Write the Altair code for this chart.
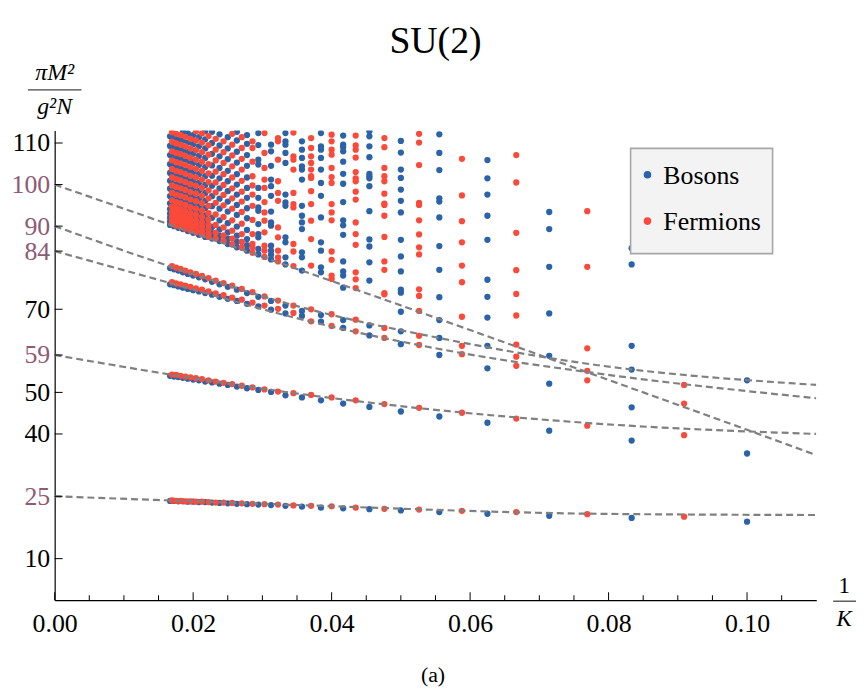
import altair as alt
import pandas as pd

FONT = "'Liberation Serif', 'DejaVu Serif', serif"
BLUE = "#2a63a8"
RED = "#fc4a3a"
MAUVE = "#8e5a74"
GRAY = "#808080"

K_VALUES = list(range(10, 61))

# lowest state (extrapolates to 25)
BAND1 = [18.9, 20.1, 19.8, 20.7, 20.3, 21.2, 20.8, 21.5, 21.2, 21.8, 21.6,
         22.0, 21.9, 22.3, 22.1, 22.6, 22.3, 22.7, 22.5, 22.8, 22.7,
         23.0, 22.9, 23.1, 23.0, 23.2, 23.1, 23.3, 23.2, 23.4, 23.3,
         23.5, 23.4, 23.5, 23.5, 23.6, 23.6, 23.7, 23.6, 23.7, 23.7,
         23.8, 23.7, 23.8, 23.8, 23.9, 23.8, 23.9, 23.9, 24.0, 23.9]

# second state (extrapolates to 59)
BAND2 = [35.3, 39.7, 38.4, 42.0, 40.8, 43.7, 42.7, 45.1, 44.2, 46.3, 45.4,
         47.2, 46.5, 48.1, 47.3, 48.8, 48.1, 49.4, 48.8, 49.8, 49.3,
         50.2, 50.1, 50.7, 50.6, 51.2, 51.0, 51.6, 51.4, 52.0, 51.8,
         52.3, 52.1, 52.6, 52.4, 52.9, 52.6, 53.2, 52.9, 53.4, 53.1,
         53.6, 53.3, 53.8, 53.5, 54.0, 53.7, 54.2, 53.8, 54.3, 54.0]

# all higher states, one list per K (K = 10 ... 60)
UPPER = [
    [52.9],
    [51.8, 47.3],
    [84.7, 80.8, 61.2, 55.5, 46.4],
    [93.6, 80.2, 60.6, 55.2, 52.9],
    [93.4, 89.3, 80.2, 69.0, 58.8, 52.1],
    [107.1, 100.5, 88.4, 79.4, 73.7, 68.5, 61.5, 58.6, 56.4],
    [105.9, 101.5, 97.6, 92.5, 86.7, 77.1, 73.0, 68.0, 61.2, 55.8],
    [106.2, 97.4, 91.2, 86.1, 80.5, 76.5, 68.2, 61.2, 59.2],
    [112.1, 107.6, 103.5, 96.7, 95.9, 92.1, 85.2, 79.5, 72.9, 67.4, 63.1, 59.0],
    [112.2, 110.1, 104.7, 95.6, 95.1, 91.4, 88.0, 84.9, 83.2, 74.8, 73.2, 69.6, 63.6, 61.4],
    [110.5, 107.7, 103.6, 101.6, 98.8, 96.1, 93.3, 86.7, 82.7, 79.1, 74.7, 74.0, 69.4, 64.7, 61.6],
    [111.2, 109.0, 104.0, 102.0, 100.8, 97.8, 95.4, 95.1, 92.5, 87.4, 81.5, 79.5, 73.9, 73.6, 65.5, 63.1],
    [112.8, 111.6, 109.2, 106.6, 102.6, 102.0, 101.5, 99.6, 93.6, 86.8, 85.1, 81.3, 76.9, 66.1, 63.7],
    [111.8, 109.4, 108.4, 106.5, 103.0, 101.5, 100.8, 98.3, 96.4, 90.9, 88.1, 85.5, 78.9, 77.2, 75.1, 67.5, 64.7],
    [111.8, 109.6, 109.0, 108.0, 105.5, 102.6, 100.2, 95.8, 91.4, 90.2, 87.9, 81.5, 79.1, 78.1, 75.2, 67.4, 65.5],
    [112.0, 110.4, 108.4, 107.2, 104.0, 101.8, 100.4, 95.3, 93.3, 91.4, 83.9, 81.9, 78.1, 77.3, 68.8, 66.0],
    [112.4, 109.2, 108.4, 106.4, 103.6, 100.4, 97.3, 92.1, 86.1, 84.1, 80.1, 78.9, 68.6, 67.0],
    [111.2, 108.8, 106.8, 105.2, 103.6, 102.0, 101.6, 98.4, 95.3, 91.3, 86.9, 80.5, 70.0, 67.1],
    [110.4, 108.4, 106.4, 104.4, 103.6, 101.2, 94.9, 92.5, 90.9, 89.3, 83.7, 82.5, 79.3, 69.6, 68.4],
    [112.5, 106.8, 106.0, 103.6, 98.0, 95.3, 94.5, 85.7, 83.9, 80.4, 70.9, 69.1],
    [112.4, 110.4, 109.6, 107.6, 105.2, 97.6, 95.7, 94.9, 87.3, 86.1, 82.5, 80.8, 70.9, 69.0],
    [111.2, 110.4, 106.0, 100.8, 98.0, 96.1, 89.7, 87.3, 84.1, 82.5, 81.5, 72.1, 70.1],
    [109.6, 108.0, 104.5, 101.2, 99.6, 97.3, 93.5, 90.9, 90.1, 85.3, 84.1, 83.1, 82.0, 72.0, 69.9],
    [112.4, 107.6, 104.0, 101.2, 99.2, 95.8, 93.3, 91.3, 88.5, 85.3, 84.1, 82.6, 73.1, 70.9],
    [112.4, 109.5, 106.0, 104.8, 99.2, 96.8, 94.5, 93.7, 90.5, 88.1, 87.3, 84.5, 83.2, 73.0, 70.7],
    [110.4, 108.8, 105.5, 102.0, 99.8, 97.6, 94.9, 91.5, 88.1, 85.7, 84.9, 83.6, 74.1, 71.6],
    [84.1, 85.4, 86.9, 89.1, 91.9, 94.3, 96.8, 99.2, 101.7, 104.5, 107.1, 109.8, 111.9, 73.9, 71.3],
    [84.8, 86.2, 88.1, 90.6, 93.4, 95.9, 98.3, 100.9, 103.6, 106.2, 108.8, 111.4, 74.9, 72.3],
    [84.9, 86.2, 87.7, 89.9, 92.7, 95.1, 97.6, 100.0, 102.5, 105.3, 107.9, 110.6, 112.7, 74.7, 72.0],
    [85.6, 87.0, 88.9, 91.4, 94.2, 96.7, 99.1, 101.7, 104.4, 107.0, 109.6, 112.2, 75.7, 72.8],
    [85.7, 87.0, 88.5, 90.7, 93.5, 95.9, 98.4, 100.8, 103.3, 106.1, 108.7, 111.4, 75.4, 72.5],
    [86.4, 87.8, 89.7, 92.2, 95.0, 97.5, 99.9, 102.5, 105.2, 107.8, 110.4, 76.3, 73.4],
    [86.4, 87.7, 89.2, 91.4, 94.2, 96.6, 99.1, 101.5, 104.0, 106.8, 109.4, 112.1, 76.0, 73.0],
    [87.0, 88.4, 90.3, 92.8, 95.6, 98.1, 100.5, 103.1, 105.8, 108.4, 111.0, 76.9, 73.8],
    [87.0, 88.3, 89.8, 92.0, 94.8, 97.2, 99.7, 102.1, 104.6, 107.4, 110.0, 112.7, 76.6, 73.5],
    [87.4, 88.2, 89.2, 90.3, 91.6, 93.1, 94.9, 96.7, 98.6, 100.6, 102.7, 104.9, 107.2, 109.5, 111.7, 77.5, 74.3],
    [87.4, 88.2, 89.1, 90.1, 91.2, 92.6, 94.3, 96.1, 98.0, 99.9, 102.0, 104.2, 106.4, 108.7, 110.9, 112.9, 77.2, 73.9],
    [88.0, 88.8, 89.8, 90.9, 92.2, 93.7, 95.5, 97.3, 99.2, 101.2, 103.3, 105.5, 107.8, 110.1, 112.3, 78.0, 74.7],
    [87.9, 88.7, 89.6, 90.6, 91.7, 93.1, 94.8, 96.6, 98.5, 100.4, 102.5, 104.7, 106.9, 109.2, 111.4, 77.7, 74.3],
    [88.5, 89.3, 90.3, 91.4, 92.7, 94.2, 96.0, 97.8, 99.7, 101.7, 103.8, 106.0, 108.3, 110.6, 112.8, 78.5, 75.0],
    [88.4, 89.2, 90.1, 91.1, 92.2, 93.6, 95.3, 97.1, 99.0, 100.9, 103.0, 105.2, 107.4, 109.7, 111.9, 78.1, 74.6],
    [88.9, 89.7, 90.7, 91.8, 93.1, 94.6, 96.4, 98.2, 100.1, 102.1, 104.2, 106.4, 108.7, 111.0, 78.9, 75.4],
    [88.8, 89.6, 90.5, 91.5, 92.6, 94.0, 95.7, 97.5, 99.4, 101.3, 103.4, 105.6, 107.8, 110.1, 112.3, 78.5, 74.9],
    [89.4, 90.2, 91.2, 92.3, 93.6, 95.1, 96.9, 98.7, 100.6, 102.6, 104.7, 106.9, 109.2, 111.5, 79.3, 75.7],
    [89.3, 90.1, 91.0, 92.0, 93.1, 94.5, 96.2, 98.0, 99.9, 101.8, 103.9, 106.1, 108.3, 110.6, 112.8, 78.9, 75.2],
    [89.8, 90.6, 91.6, 92.7, 94.0, 95.5, 97.3, 99.1, 101.0, 103.0, 105.1, 107.3, 109.6, 111.9, 79.7, 76.0],
    [89.6, 90.4, 91.3, 92.3, 93.4, 94.8, 96.5, 98.3, 100.2, 102.1, 104.2, 106.4, 108.6, 110.9, 79.3, 75.5],
    [90.1, 90.9, 91.9, 93.0, 94.3, 95.8, 97.6, 99.4, 101.3, 103.3, 105.4, 107.6, 109.9, 112.2, 80.0, 76.2],
    [90.0, 90.8, 91.7, 92.7, 93.8, 95.2, 96.9, 98.7, 100.6, 102.5, 104.6, 106.8, 109.0, 111.3, 79.6, 75.8],
    [90.5, 91.3, 92.3, 93.4, 94.7, 96.2, 98.0, 99.8, 101.7, 103.7, 105.8, 108.0, 110.3, 112.6, 80.4, 76.5],
    [90.3, 91.1, 92.0, 93.0, 94.1, 95.5, 97.2, 99.0, 100.9, 102.8, 104.9, 107.1, 109.3, 111.6, 79.9, 76.0],
]

# dashed extrapolation curves
FIT_100_X = [0.0, 0.02, 0.04, 0.06, 0.08, 0.10, 0.11]
FIT_100_Y = [100.0, 88.4, 76.8, 65.0, 53.0, 41.0, 34.9]
FIT_90_X = [0.0, 0.0167, 0.0356, 0.0552, 0.0782, 0.11]
FIT_90_Y = [90.0, 80.3, 70.5, 63.2, 56.6, 51.8]
FIT_84_X = [0.0, 0.0167, 0.0351, 0.059, 0.0782, 0.11]
FIT_84_Y = [84.0, 76.3, 67.8, 59.4, 54.6, 48.6]
FIT_59_X = [0.0, 0.0167, 0.0356, 0.0782, 0.11]
FIT_59_Y = [59.0, 54.3, 49.6, 42.5, 40.0]
FIT_25_X = [0.0, 0.0167, 0.0351, 0.0782, 0.11]
FIT_25_Y = [25.0, 24.0, 22.9, 20.8, 20.5]

Y_TICKS = [10, 25, 40, 50, 59, 70, 84, 90, 100, 110]
X_TICKS = [0.0, 0.02, 0.04, 0.06, 0.08, 0.10]
X_MINOR = [0.005, 0.01, 0.015, 0.025, 0.03, 0.035, 0.045, 0.05, 0.055,
           0.065, 0.07, 0.075, 0.085, 0.09, 0.095, 0.105]

LEGEND_NAMES = ["Bosons", "Fermions"]
LEGEND_COLORS = [BLUE, RED]

W, H = 767, 473

rows = []
for k, b1, b2, up in zip(K_VALUES, BAND1, BAND2, UPPER):
    kind = "Bosons" if k % 2 == 0 else "Fermions"
    for m in [b1, b2] + up:
        rows.append({"x": 1.0 / k, "y": m, "kind": kind, "K": k})
df = pd.DataFrame(rows)
df = df.sort_values(["kind", "K"]).reset_index(drop=True)
df["ord"] = range(len(df))

fit_rows = []
for name, xs, ys in [("100", FIT_100_X, FIT_100_Y), ("90", FIT_90_X, FIT_90_Y),
                     ("84", FIT_84_X, FIT_84_Y), ("59", FIT_59_X, FIT_59_Y),
                     ("25", FIT_25_X, FIT_25_Y)]:
    for xv, yv in zip(xs, ys):
        fit_rows.append({"x": xv, "y": yv, "curve": name})
fits = pd.DataFrame(fit_rows)

x_axis = alt.Axis(values=X_TICKS, format=".2f", ticks=False, tickSize=0,
                  labelFont=FONT, labelFontSize=26, labelColor="black",
                  labelPadding=11, labelFlush=False, labelOverlap=False,
                  domainColor="black", domainWidth=1.2, grid=False, title=None)
y_axis = alt.Axis(values=Y_TICKS, ticks=False, tickSize=0,
                  labelFont=FONT, labelFontSize=26,
                  labelColor=alt.condition(
                      "indexof([25,59,84,90,100], datum.value) >= 0",
                      alt.value(MAUVE), alt.value("black")),
                  labelPadding=5, labelOverlap=False,
                  domainColor="black", domainWidth=1.2, grid=False, title=None)

x_enc = alt.X("x:Q", scale=alt.Scale(domain=[0, 0.11], nice=False, zero=False), axis=x_axis)
y_enc = alt.Y("y:Q", scale=alt.Scale(domain=[0, 113], nice=False, zero=False), axis=y_axis)

points = alt.Chart(df).mark_circle(size=40, opacity=1, clip=True).encode(
    x=x_enc, y=y_enc,
    color=alt.Color("kind:N",
                    scale=alt.Scale(domain=LEGEND_NAMES, range=LEGEND_COLORS),
                    legend=None),
    order=alt.Order("ord:Q"),
)

lines = alt.Chart(fits).mark_line(strokeDash=[7, 4], strokeWidth=2.2, color=GRAY,
                                  interpolate="monotone", clip=True).encode(
    x=x_enc, y=y_enc, detail="curve:N")

ytick = alt.Chart(pd.DataFrame({"y": Y_TICKS})).mark_rule(color="black", strokeWidth=1).encode(
    y=y_enc, x=alt.value(0), x2=alt.value(8))
xmaj = alt.Chart(pd.DataFrame({"x": X_TICKS})).mark_rule(color="black", strokeWidth=1).encode(
    x=x_enc, y=alt.value(H), y2=alt.value(H - 8))
xmin = alt.Chart(pd.DataFrame({"x": X_MINOR})).mark_rule(color="black", strokeWidth=1).encode(
    x=x_enc, y=alt.value(H), y2=alt.value(H - 5))


def label(txt, x, y, size, italic=False, baseline="alphabetic", color="black", align="center"):
    kw = dict(font=FONT, fontSize=size, color=color, align=align, baseline=baseline)
    if italic:
        kw["fontStyle"] = "italic"
    return alt.Chart(pd.DataFrame({"t": [txt]})).mark_text(**kw).encode(
        text="t:N", x=alt.value(x), y=alt.value(y))


def bar(x1, x2, y):
    return alt.Chart(pd.DataFrame({"t": [0]})).mark_rule(color="#444444", strokeWidth=1.3).encode(
        x=alt.value(x1), x2=alt.value(x2), y=alt.value(y))


# legend box (drawn by hand so its size matches the original)
LX0, LX1, LY0, LY1 = 580, 723, 18, 124
legend_box = alt.Chart(pd.DataFrame({"t": [0]})).mark_rect(
    fill="#f3f3f3", stroke="#a6a6a6", strokeWidth=1.6).encode(
    x=alt.value(LX0), x2=alt.value(LX1), y=alt.value(LY0), y2=alt.value(LY1))
legend_sym = []
legend_txt = []
for i, (name, col) in enumerate(zip(LEGEND_NAMES, LEGEND_COLORS)):
    yy = 44.5 + i * 46.7
    legend_sym.append(alt.Chart(pd.DataFrame({"t": [name]})).mark_circle(
        size=58, color=col, opacity=1).encode(x=alt.value(597), y=alt.value(yy)))
    legend_txt.append(label(name, 613, yy + 1, 26, baseline="middle", align="left"))

title = label("SU(2)", W / 2, -89, 38, baseline="middle")
ynum = label("\u03c0M\u00b2", 0, -51, 24, italic=True)
yden = label("g\u00b2N", 0, -17, 24, italic=True)
ybar = bar(-27, 27, -41)
xnum = label("1", 795, 466, 23)
xbar = bar(784, 807, 474)
xden = label("K", 795, 499, 23, italic=True)
cap = label("(a)", 381, 548, 22, baseline="middle")

chart = alt.layer(points, lines, ytick, xmaj, xmin, legend_box, *legend_sym, *legend_txt,
                  title, ynum, yden, ybar, xnum, xbar, xden, cap).properties(
    width=W, height=H,
    padding={"left": 47, "top": 121, "right": 40, "bottom": 86},
    autosize=alt.AutoSizeParams(type="none"),
).configure_view(strokeWidth=0)

chart.save("out.html", embed_options={"renderer": "svg", "actions": False})
